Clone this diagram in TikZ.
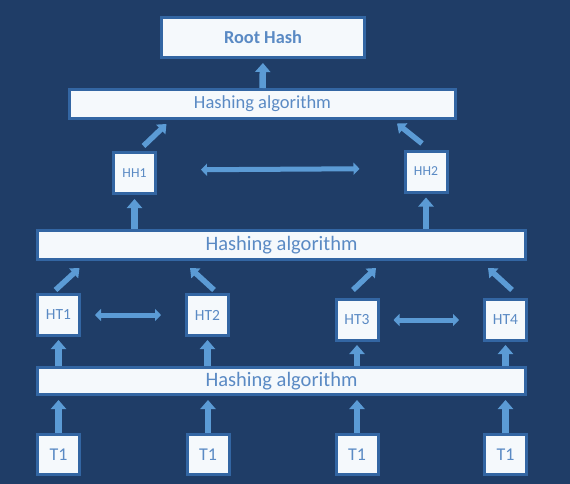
\documentclass[tikz,border=0pt]{standalone}
\usepackage{fontspec}
\setmainfont{Carlito}
\usepackage{tikz}
\usetikzlibrary{arrows.meta}
\definecolor{fond}{HTML}{1F3D67}
\definecolor{bordure}{HTML}{3366A3}
\definecolor{boitefond}{HTML}{F5F9FC}
\definecolor{texte}{HTML}{5A8AC4}
\definecolor{fleche}{HTML}{5B9BD5}
\tikzset{
Boite/.style={
 draw=bordure, 
 fill=boitefond, 
 line width=3pt, 
 text=texte, 
 inner sep=0pt, 
 minimum width=42pt, 
 minimum height=41pt
 },
Algo/.style={
 Boite, 
 minimum width=488pt, 
 minimum height=28pt, 
 font=\fontsize{20.5}{22}\selectfont
 },
Fleche/.style={
 draw=fleche, 
 line width=6.5pt, 
 -{Triangle[width=15pt,length=9pt]}
 },
DiagFleche/.style={
 draw=fleche, 
 line width=5.5pt, 
 -{Triangle[width=13pt,length=8pt]}
 },
DoubleFleche/.style={
 draw=fleche, 
 line width=5pt, 
 {Triangle[width=12pt,length=6pt]}-{Triangle[width=12pt,length=6pt]}
 }
}
\begin{document}
\begin{tikzpicture}[x=1pt,y=-1pt]
\useasboundingbox (0,0) rectangle (570,484);
\fill[fond] (0,0) rectangle (570,484);
\node[Boite,minimum width=203pt,minimum height=40pt,font=\fontsize{18.3}{20}\selectfont\bfseries] (root) at (263,37.5) {Root Hash};
\node[Algo,minimum width=386pt,minimum height=29pt,font=\fontsize{18.5}{20}\selectfont] (ha3) at (262.5,104) {Hashing algorithm};
\node[Boite,font=\fontsize{13.7}{15}\selectfont] (hh1) at (134.5,173) {HH1};
\node[Boite,font=\fontsize{13.7}{15}\selectfont] (hh2) at (426,171.5) {HH2};
\node[Algo,minimum height=29pt] (ha2) at (281.5,245) {Hashing algorithm};
\node[Boite,font=\fontsize{15.5}{17}\selectfont] (ht1) at (58.5,315) {HT1};
\node[Boite,font=\fontsize{15.5}{17}\selectfont] (ht2) at (207.5,315) {HT2};
\node[Boite,font=\fontsize{15.5}{17}\selectfont] (ht3) at (357,320) {HT3};
\node[Boite,font=\fontsize{15.5}{17}\selectfont] (ht4) at (505.5,320) {HT4};
\node[Algo,minimum height=27pt] (ha1) at (281.5,381) {Hashing algorithm};
\node[Boite,minimum height=40pt,font=\fontsize{18}{20}\selectfont] (t1) at (58.5,454.5) {T1};
\node[Boite,minimum height=40pt,font=\fontsize{18}{20}\selectfont] (t2) at (208,454.5) {T1};
\node[Boite,minimum height=40pt,font=\fontsize{18}{20}\selectfont] (t3) at (357,454.5) {T1};
\node[Boite,minimum height=40pt,font=\fontsize{18}{20}\selectfont] (t4) at (505.5,454.5) {T1};
\draw[Fleche,shorten >=4pt] (t1.north) -- (ha1.south -| t1.north);
\draw[Fleche,shorten >=4pt] (t2.north) -- (ha1.south -| t2.north);
\draw[Fleche,shorten >=4pt] (t3.north) -- (ha1.south -| t3.north);
\draw[Fleche,shorten >=4pt] (t4.north) -- (ha1.south -| t4.north);
\draw[Fleche,shorten >=3pt] (ha1.north -| ht1.south) -- (ht1.south);
\draw[Fleche,shorten >=3pt] (ha1.north -| ht2.south) -- (ht2.south);
\draw[Fleche,shorten >=3pt] (ha1.north -| ht3.south) -- (ht3.south);
\draw[Fleche,shorten >=3pt] (ha1.north -| ht4.south) -- (ht4.south);
\draw[DoubleFleche,shorten <=14pt,shorten >=24pt] (ht1.east) -- (ht2.west);
\draw[DoubleFleche,shorten <=14pt,shorten >=24pt] (ht3.east) -- (ht4.west);
\draw[DiagFleche] ([xshift=-3pt,yshift=3pt]ht1.north) -- ++(24,-22);
\draw[DiagFleche] ([xshift=6.5pt,yshift=3pt]ht2.north) -- ++(-24,-22);
\draw[DiagFleche] ([xshift=-4pt,yshift=8pt]ht3.north) -- ++(23,-22);
\draw[DiagFleche] ([xshift=6.5pt,yshift=8pt]ht4.north) -- ++(-24,-22);
\draw[Fleche,shorten >=4pt] (ha2.north -| hh1.south) -- (hh1.south);
\draw[Fleche,shorten >=4pt] (ha2.north -| hh2.south) -- (hh2.south);
\draw[DoubleFleche,shorten <=44pt,shorten >=44pt] ([yshift=3pt]hh1.east) -- ([yshift=3pt]hh2.west);
\draw[DiagFleche] ([xshift=9pt,yshift=5pt]hh1.north) -- ++(23,-22);
\draw[DiagFleche] ([xshift=-4pt,yshift=6pt]hh2.north) -- ++(-25,-20);
\draw[Fleche,shorten >=4pt] (ha3.north) -- (root.south);
\end{tikzpicture}
\end{document}
